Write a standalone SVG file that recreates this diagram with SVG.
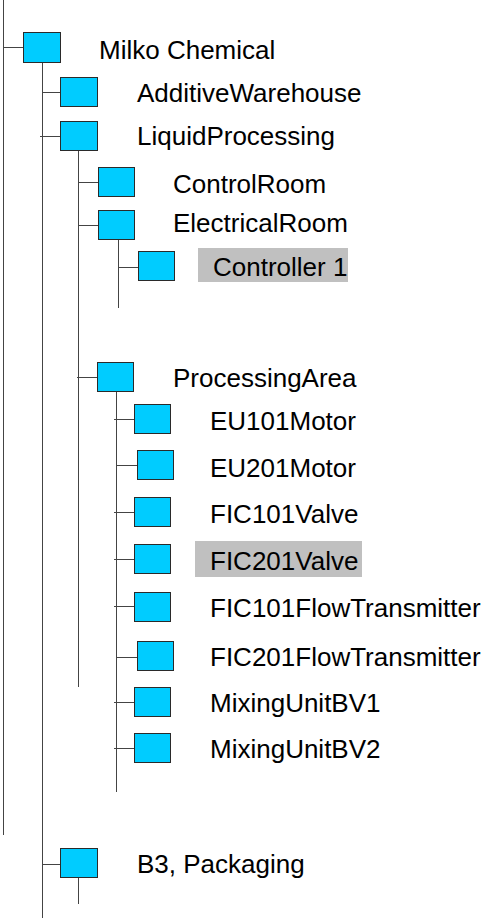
<svg xmlns="http://www.w3.org/2000/svg" width="487" height="918" viewBox="0 0 487 918">
  <style>
    .bg { fill: #ffffff; }
    .node rect.box { fill: #00ccff; stroke: #2a2a2a; stroke-width: 1; }
    .node rect.hl { fill: #c0c0c0; stroke: none; }
    .node text { font-family: "Liberation Sans", Arial, sans-serif; font-size: 26px; fill: #000000; }
    #connectors line { stroke: #444444; stroke-width: 1; }
  </style>
  <rect class="bg" x="0" y="0" width="487" height="918"/>

  <!-- tree connectors -->
  <g id="connectors">
    <line x1="3.5" y1="0" x2="3.5" y2="835"/>
    <line x1="3.5" y1="47.5" x2="23" y2="47.5"/>
    <line x1="42.5" y1="62" x2="42.5" y2="918"/>
    <line x1="42.5" y1="92.5" x2="60" y2="92.5"/>
    <line x1="40" y1="136.5" x2="60" y2="136.5"/>
    <line x1="42.5" y1="864.5" x2="60" y2="864.5"/>
    <line x1="78.5" y1="150" x2="78.5" y2="687"/>
    <line x1="78.5" y1="182.5" x2="98" y2="182.5"/>
    <line x1="78.5" y1="225.5" x2="98" y2="225.5"/>
    <line x1="77" y1="377.5" x2="97" y2="377.5"/>
    <line x1="118.5" y1="239" x2="118.5" y2="308"/>
    <line x1="118.5" y1="267.5" x2="138" y2="267.5"/>
    <line x1="116.5" y1="392" x2="116.5" y2="792"/>
    <line x1="114" y1="419.5" x2="134" y2="419.5"/>
    <line x1="116.5" y1="465.5" x2="137" y2="465.5"/>
    <line x1="114" y1="512.5" x2="134" y2="512.5"/>
    <line x1="114" y1="559.5" x2="134" y2="559.5"/>
    <line x1="114" y1="606.5" x2="134" y2="606.5"/>
    <line x1="116.5" y1="657.5" x2="137" y2="657.5"/>
    <line x1="114" y1="702.5" x2="134" y2="702.5"/>
    <line x1="114" y1="748.5" x2="134" y2="748.5"/>
    <line x1="78.5" y1="878" x2="78.5" y2="904"/>
  </g>

  <g id="milko-chemical" class="node">
    <rect class="box" x="23.5" y="32.5" width="37" height="30"/>
    <text x="99" y="59">Milko Chemical</text>
  </g>
  <g id="additive-warehouse" class="node">
    <rect class="box" x="60.5" y="77.5" width="37" height="29"/>
    <text x="137" y="102">AdditiveWarehouse</text>
  </g>
  <g id="liquid-processing" class="node">
    <rect class="box" x="60.5" y="121.5" width="37" height="29"/>
    <text x="137" y="145">LiquidProcessing</text>
  </g>
  <g id="control-room" class="node">
    <rect class="box" x="98.5" y="167.5" width="36" height="29"/>
    <text x="173" y="193">ControlRoom</text>
  </g>
  <g id="electrical-room" class="node">
    <rect class="box" x="98.5" y="210.5" width="36" height="29"/>
    <text x="173" y="232">ElectricalRoom</text>
  </g>
  <g id="controller-1" class="node">
    <rect class="box" x="138.5" y="251.5" width="36" height="29"/>
    <rect class="hl" x="198" y="248" width="150" height="34"/>
    <text x="213" y="276">Controller 1</text>
  </g>
  <g id="processing-area" class="node">
    <rect class="box" x="97.5" y="362.5" width="36" height="29"/>
    <text x="173" y="387">ProcessingArea</text>
  </g>
  <g id="eu101-motor" class="node">
    <rect class="box" x="134.5" y="404.5" width="36" height="29"/>
    <text x="210" y="430">EU101Motor</text>
  </g>
  <g id="eu201-motor" class="node">
    <rect class="box" x="137.5" y="450.5" width="36" height="29"/>
    <text x="210" y="477">EU201Motor</text>
  </g>
  <g id="fic101-valve" class="node">
    <rect class="box" x="134.5" y="497.5" width="36" height="29"/>
    <text x="210" y="523">FIC101Valve</text>
  </g>
  <g id="fic201-valve" class="node">
    <rect class="box" x="134.5" y="544.5" width="36" height="29"/>
    <rect class="hl" x="195" y="541" width="167" height="36"/>
    <text x="210" y="570">FIC201Valve</text>
  </g>
  <g id="fic101-flow-transmitter" class="node">
    <rect class="box" x="134.5" y="592.5" width="36" height="29"/>
    <text x="210" y="617">FIC101FlowTransmitter</text>
  </g>
  <g id="fic201-flow-transmitter" class="node">
    <rect class="box" x="137.5" y="641.5" width="36" height="29"/>
    <text x="210" y="666">FIC201FlowTransmitter</text>
  </g>
  <g id="mixing-unit-bv1" class="node">
    <rect class="box" x="134.5" y="687.5" width="36" height="29"/>
    <text x="210" y="712">MixingUnitBV1</text>
  </g>
  <g id="mixing-unit-bv2" class="node">
    <rect class="box" x="134.5" y="733.5" width="36" height="29"/>
    <text x="210" y="758">MixingUnitBV2</text>
  </g>
  <g id="b3-packaging" class="node">
    <rect class="box" x="60.5" y="848.5" width="37" height="29"/>
    <text x="137" y="873">B3, Packaging</text>
  </g>
</svg>
